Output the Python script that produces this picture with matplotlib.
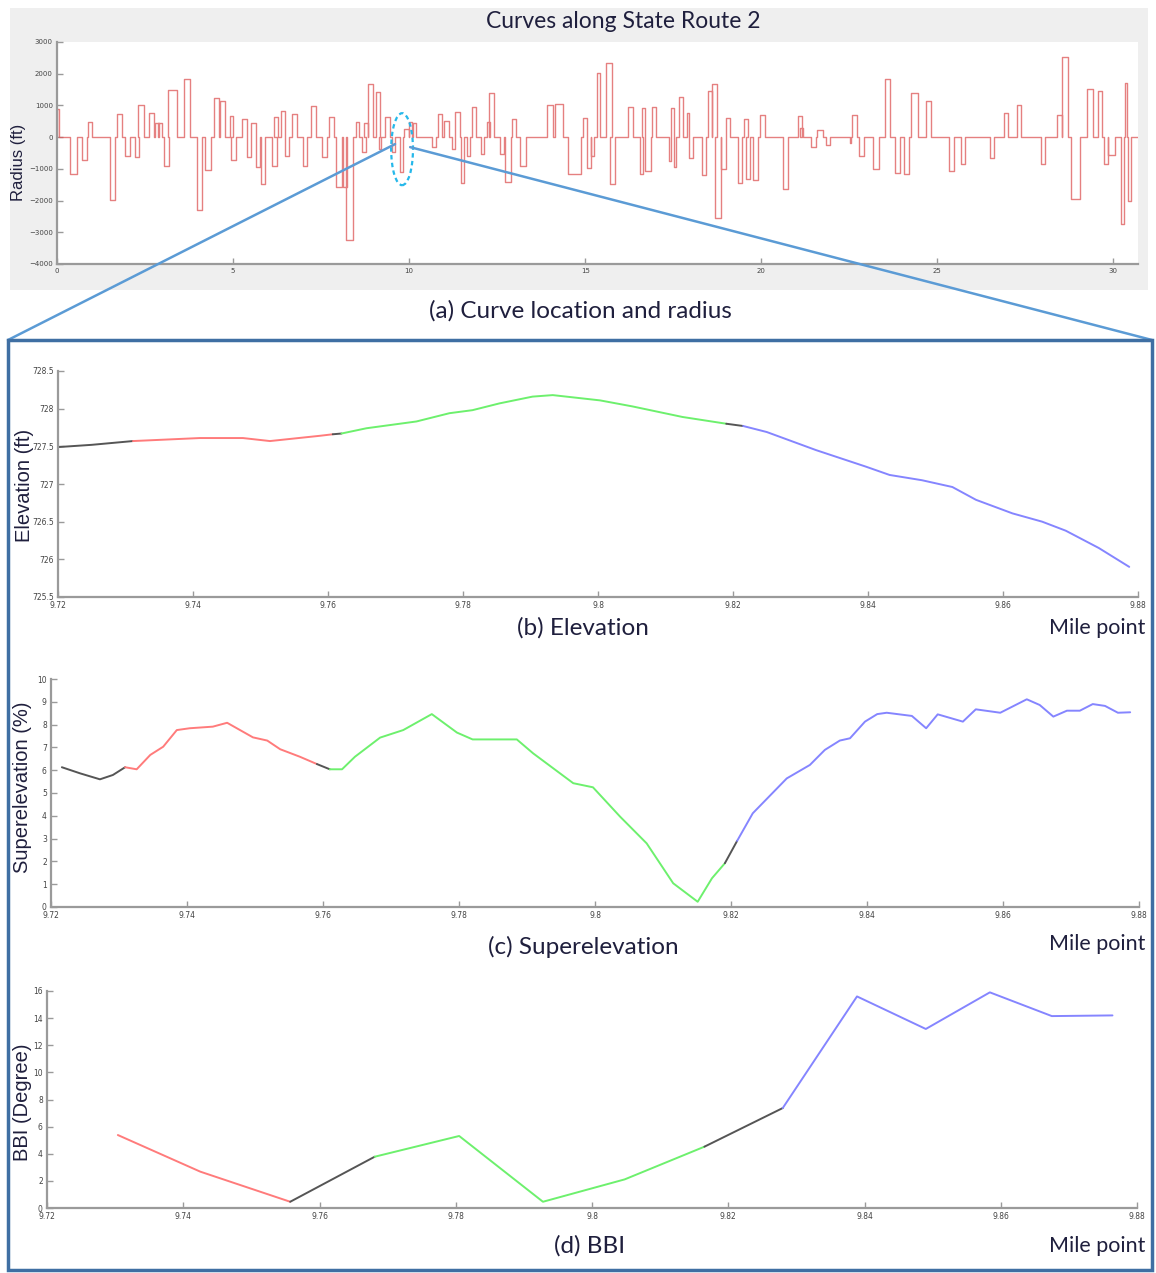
import numpy as np
import matplotlib.pyplot as plt
from matplotlib.patches import Rectangle, Ellipse, ConnectionPatch

# ---------------- data ----------------
# (a) curves along SR 2: start mile, end mile, radius (ft, sign = direction)
curve_start = [0.00, 0.37, 0.70, 0.87, 1.50, 1.69, 1.92, 2.21, 2.30, 2.61, 2.78, 2.87, 3.03, 3.16,
               3.60, 3.98, 4.21, 4.46, 4.62, 4.91, 4.94, 5.25, 5.41, 5.51, 5.64, 5.79, 6.11, 6.15,
               6.36, 6.48, 6.67, 6.99, 7.22, 7.53, 7.72, 7.91, 8.12, 8.20, 8.48, 8.67, 8.73, 8.83,
               9.07, 9.15, 9.32, 9.51, 9.74, 9.86, 9.99, 10.12, 10.66, 10.83, 10.98, 11.21, 11.31,
               11.48, 11.63, 11.78, 12.03, 12.22, 12.26, 12.57, 12.72, 12.91, 13.16, 13.92, 14.15,
               14.51, 14.93, 15.05, 15.16, 15.33, 15.60, 15.70, 16.23, 16.55, 16.61, 16.71, 16.89,
               17.37, 17.43, 17.51, 17.66, 17.89, 17.95, 18.33, 18.50, 18.61, 18.69, 18.86, 19.01,
               19.34, 19.52, 19.57, 19.78, 19.97, 20.63, 21.05, 21.11, 21.42, 21.57, 21.85, 22.52,
               22.58, 22.78, 23.17, 23.51, 23.80, 24.05, 24.24, 24.68, 25.34, 25.67, 26.49, 26.89,
               27.25, 27.94, 28.41, 28.55, 28.81, 29.25, 29.56, 29.73, 29.84, 30.22, 30.34, 30.43]
curve_end = [0.05, 0.58, 0.85, 1.00, 1.65, 1.86, 2.07, 2.32, 2.47, 2.75, 2.89, 2.99, 3.17, 3.41,
             3.79, 4.13, 4.38, 4.59, 4.76, 5.01, 5.09, 5.39, 5.51, 5.64, 5.77, 5.91, 6.25, 6.27,
             6.48, 6.59, 6.82, 7.11, 7.36, 7.66, 7.87, 8.08, 8.25, 8.41, 8.58, 8.77, 8.83, 8.98,
             9.17, 9.21, 9.46, 9.61, 9.84, 9.99, 10.09, 10.20, 10.77, 10.93, 11.12, 11.31, 11.44,
             11.57, 11.73, 11.90, 12.13, 12.30, 12.41, 12.70, 12.89, 13.04, 13.33, 14.09, 14.38,
             14.87, 15.05, 15.16, 15.26, 15.43, 15.75, 15.85, 16.36, 16.63, 16.71, 16.86, 17.01,
             17.45, 17.53, 17.58, 17.79, 17.95, 18.06, 18.42, 18.61, 18.73, 18.86, 18.99, 19.11,
             19.45, 19.63, 19.68, 19.91, 20.12, 20.75, 21.15, 21.19, 21.55, 21.76, 21.95, 22.56,
             22.71, 22.92, 23.34, 23.65, 23.95, 24.20, 24.45, 24.81, 25.48, 25.80, 26.60, 27.02,
             27.38, 28.07, 28.53, 28.72, 29.04, 29.42, 29.69, 29.84, 30.05, 30.30, 30.40, 30.49]
curve_radius = [890, -1150, -710, 470, -1990, 730, -580, -630, 1020, 750, 440, 440, -920, 1490,
                1830, -2310, -1050, 1230, 1130, 680, -730, 580, -630, 440, -940, -1470, -920, 630,
                840, -580, 730, -920, 970, -630, 630, -1570, -1570, -3230, 470, -470, 440, 1660,
                1420, -370, 630, -470, -1100, 260, 470, 440, -310, 730, 520, -370, 790,
                -1450, -580, 940, -520, 470, 1380, -520, -1420, 580, -920, 1000, 1030,
                -1160, 610, -960, -600, 2020, 2340, -1490, 940, -1170, 920, -1070, 940,
                -750, 920, -940, 1260, 770, -650, -1190, 1450, 1660, -2540, -1020, 610,
                -1440, 580, -1330, -1360, 710, -1650, 660, 290, -310, 240, -250, -180,
                710, -600, -1020, 1840, -1120, -1150, 1390, 1130, -1070, -860, -650, 750,
                1010, -840, 690, 2520, -1960, 1530, 1470, -840, -550, -2730, 1710, -2010]
route_end = 30.67

# (b) elevation
elev_mile = [9.7200, 9.7250, 9.7311, 9.7410, 9.7474, 9.7514, 9.7588, 9.7607, 9.7620, 9.7657,
             9.7731, 9.7780, 9.7814, 9.7854, 9.7903, 9.7933, 9.8003, 9.8051, 9.8125, 9.8190,
             9.8215, 9.8250, 9.8323, 9.8397, 9.8432, 9.8480, 9.8525, 9.8560, 9.8614, 9.8658,
             9.8693, 9.8742, 9.8787]
elev_ft = [727.49, 727.52, 727.57, 727.61, 727.61, 727.57, 727.64, 727.66, 727.67, 727.74,
           727.83, 727.94, 727.98, 728.07, 728.16, 728.18, 728.11, 728.03, 727.89, 727.80,
           727.77, 727.69, 727.45, 727.23, 727.12, 727.05, 726.96, 726.79, 726.61, 726.50,
           726.38, 726.15, 725.90]
elev_bounds = [9.7200, 9.7311, 9.7607, 9.7620, 9.8190, 9.8215, 9.8787]

# (c) superelevation
super_mile = [9.7216, 9.7243, 9.7272, 9.7291, 9.7309, 9.7326, 9.7346, 9.7365, 9.7385, 9.7404,
              9.7438, 9.7459, 9.7497, 9.7518, 9.7537, 9.7566, 9.7591, 9.7610, 9.7628, 9.7647,
              9.7684, 9.7718, 9.7760, 9.7797, 9.7820, 9.7885, 9.7909, 9.7968, 9.7997, 9.8037,
              9.8076, 9.8115, 9.8151, 9.8172, 9.8191, 9.8209, 9.8232, 9.8282, 9.8316, 9.8338,
              9.8360, 9.8375, 9.8397, 9.8415, 9.8429, 9.8466, 9.8487, 9.8504, 9.8541, 9.8560,
              9.8596, 9.8635, 9.8654, 9.8674, 9.8694, 9.8713, 9.8732, 9.8750, 9.8769, 9.8787]
super_pct = [6.13, 5.86, 5.60, 5.79, 6.13, 6.04, 6.67, 7.03, 7.76, 7.84,
             7.91, 8.08, 7.44, 7.30, 6.92, 6.59, 6.27, 6.04, 6.04, 6.59,
             7.43, 7.76, 8.46, 7.65, 7.35, 7.35, 6.74, 5.43, 5.25, 3.96,
             2.79, 1.04, 0.23, 1.26, 1.92, 2.90, 4.11, 5.64, 6.23, 6.89,
             7.30, 7.40, 8.13, 8.46, 8.52, 8.38, 7.84, 8.45, 8.13, 8.67,
             8.52, 9.11, 8.86, 8.35, 8.61, 8.61, 8.90, 8.82, 8.52, 8.54]
super_bounds = [9.7216, 9.7309, 9.7591, 9.7610, 9.8191, 9.8209, 9.8787]

# (d) BBI
bbi_mile = [9.7304, 9.7425, 9.7557, 9.7681, 9.7805, 9.7928, 9.8048, 9.8165, 9.8280,
            9.8389, 9.8490, 9.8584, 9.8675, 9.8764]
bbi_deg = [5.38, 2.68, 0.46, 3.78, 5.31, 0.46, 2.11, 4.52, 7.37,
           15.6, 13.2, 15.9, 14.15, 14.2]
bbi_bounds = [9.7304, 9.7557, 9.7681, 9.8165, 9.8280, 9.8764]

seg_colors6 = ["#555555", "#ff7b7b", "#555555", "#6df06d", "#555555", "#8585ff"]
seg_colors5 = ["#ff7b7b", "#555555", "#6df06d", "#555555", "#8585ff"]

mile_ticks = [9.72, 9.74, 9.76, 9.78, 9.80, 9.82, 9.84, 9.86, 9.88]
mile_labels = ["9.72", "9.74", "9.76", "9.78", "9.8", "9.82", "9.84", "9.86", "9.88"]

# ---------------- figure ----------------
W, H = 1156, 1273
fig = plt.figure(figsize=(W / 100, H / 100), dpi=100)
fig.patch.set_facecolor("white")

txt_color = "#1f1f3d"
axis_gray = "#9a9a9a"
cap_font = "Lato"
lab_font = "Liberation Sans"


def px_axes(left, top, right, bottom):
    return fig.add_axes([left / W, 1 - bottom / H, (right - left) / W, (bottom - top) / H])


def style_axes(ax, size=5.5):
    for side in ["top", "right"]:
        ax.spines[side].set_visible(False)
    for side in ["left", "bottom"]:
        ax.spines[side].set_color(axis_gray)
        ax.spines[side].set_linewidth(1.6)
    ax.tick_params(direction="in", length=4, width=1, color=axis_gray,
                   labelsize=size, labelcolor="#444444", pad=3)


def plot_segments(ax, x, y, bounds, colors):
    x = np.array(x)
    y = np.array(y)
    for i, c in enumerate(colors):
        m = (x >= bounds[i] - 1e-9) & (x <= bounds[i + 1] + 1e-9)
        ax.plot(x[m], y[m], color=c, linewidth=1.4, solid_capstyle="round")


def y_label(x, y, s, size):
    fig.text(x / W, 1 - y / H, s, rotation=90, fontsize=size, family=lab_font,
             color=txt_color, ha="center", va="center")


# gray panel behind (a)
fig.patches.append(Rectangle((10 / W, 1 - 290 / H), 1138 / W, 282 / H,
                             transform=fig.transFigure, facecolor="#efefef",
                             edgecolor="none", zorder=-5))
fig.text(623 / W, 1 - 21 / H, "Curves along State Route 2", fontsize=16.5,
         family=cap_font, color=txt_color, ha="center", va="center")

# (a) radius step plot
ax_a = px_axes(57, 42, 1138, 264)
ax_a.set_facecolor("white")
style_axes(ax_a, size=5)
step_x = [0.0]
step_y = [0.0]
order = np.argsort(curve_start)
for i in order:
    s, e, r = curve_start[i], curve_end[i], curve_radius[i]
    step_x += [s, s, e, e]
    step_y += [0, r, r, 0]
step_x.append(route_end)
step_y.append(0)
ax_a.plot(step_x, step_y, color="#dd5555", linewidth=1.0, alpha=0.75)
ax_a.set_xlim(0, 30.7)
ax_a.set_ylim(-4000, 3000)
ax_a.set_xticks([0, 5, 10, 15, 20, 25, 30])
ax_a.set_yticks([-4000, -3000, -2000, -1000, 0, 1000, 2000, 3000])
y_label(19, 162, "Radius (ft)", 12)

# highlight ellipse and zoom lines
ax_a.add_patch(Ellipse((9.8, -380), 0.62, 2270, facecolor="none", edgecolor="#26b8ea",
                       linestyle=(0, (2, 1.5)), linewidth=1.6, zorder=5))
for xy_a, xy_f in [((9.6, -220), (8 / W, 1 - 340 / H)), ((10.03, -315), (1152 / W, 1 - 340 / H))]:
    con = ConnectionPatch(xyA=xy_a, coordsA=ax_a.transData, xyB=xy_f, coordsB=fig.transFigure,
                          color="#5b9bd5", linewidth=1.8, zorder=6)
    fig.add_artist(con)

fig.text(580 / W, 1 - 311 / H, "(a) Curve location and radius", fontsize=17.5,
         family=cap_font, color=txt_color, ha="center", va="center")

# blue frame around detail panels
fig.patches.append(Rectangle((8 / W, 1 - 1270 / H), 1144 / W, 930 / H,
                             transform=fig.transFigure, facecolor="none",
                             edgecolor="#3f6fa3", linewidth=2.5, zorder=10))

# (b) elevation
ax_b = px_axes(58, 371, 1138, 597)
style_axes(ax_b)
plot_segments(ax_b, elev_mile, elev_ft, elev_bounds, seg_colors6)
ax_b.set_xlim(9.72, 9.88)
ax_b.set_ylim(725.5, 728.5)
ax_b.set_xticks(mile_ticks)
ax_b.set_xticklabels(mile_labels)
ax_b.set_yticks([725.5, 726, 726.5, 727, 727.5, 728, 728.5])
ax_b.set_yticklabels(["725.5", "726", "726.5", "727", "727.5", "728", "728.5"])
y_label(25, 485, "Elevation (ft)", 14.5)

# (c) superelevation
ax_c = px_axes(51, 679, 1139, 907)
style_axes(ax_c)
plot_segments(ax_c, super_mile, super_pct, super_bounds, seg_colors6)
ax_c.set_xlim(9.72, 9.88)
ax_c.set_ylim(0, 10)
ax_c.set_xticks(mile_ticks)
ax_c.set_xticklabels(mile_labels)
ax_c.set_yticks(range(0, 11))
y_label(23, 787, "Superelevation (%)", 14.5)

# (d) BBI
ax_d = px_axes(47, 991, 1137, 1208)
style_axes(ax_d)
plot_segments(ax_d, bbi_mile, bbi_deg, bbi_bounds, seg_colors5)
ax_d.set_xlim(9.72, 9.88)
ax_d.set_ylim(0, 16)
ax_d.set_xticks(mile_ticks)
ax_d.set_xticklabels(mile_labels)
ax_d.set_yticks(range(0, 17, 2))
y_label(23, 1102, "BBI (Degree)", 14.5)

# captions
for x, y, s in [(583, 628, "(b) Elevation"), (583, 947, "(c) Superelevation"), (590, 1246, "(d) BBI")]:
    fig.text(x / W, 1 - y / H, s, fontsize=17.5, family=cap_font, color=txt_color,
             ha="center", va="center")
for y in [628, 944, 1246]:
    fig.text(1145 / W, 1 - y / H, "Mile point", fontsize=15.5, family=cap_font, color=txt_color,
             ha="right", va="center")

plt.savefig("out.png", dpi=100)
